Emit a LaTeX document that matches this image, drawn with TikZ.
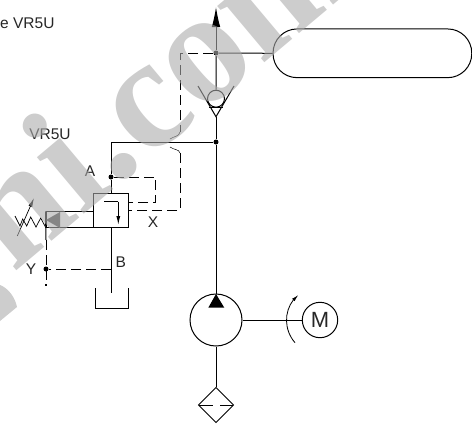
\documentclass[tikz,border=0pt]{standalone}
\usepackage{fontspec}
\setmainfont{Liberation Sans}
\newfontfamily\markfont{Liberation Serif}
\usetikzlibrary{arrows.meta,positioning,shapes.geometric}

\begin{document}
\begin{tikzpicture}[x=1pt, y=-1pt, >=latex, line width=1pt,
    lbl/.style={inner sep=0pt, font=\fontsize{15.5}{16}\selectfont, text=black!85},
    dotnode/.style={circle, fill=black, inner sep=0pt, minimum size=5pt},
    box/.style={draw, rectangle, inner sep=0pt},
    pilot/.style={dash pattern=on 10pt off 5pt, line width=0.8pt}]
   \useasboundingbox (0,0) rectangle (472,424);

   \node[box, minimum width=35.4pt, minimum height=34.7pt] (valve) at (111,210.5) {};
   \node[box, minimum width=47.3pt, minimum height=16pt]   (ctrl)  at (69.65,219.8) {};
   \node[draw, rectangle, rounded corners=24pt, minimum width=198.7pt, minimum height=48.7pt, inner sep=0pt] (accu) at (372.4,53.3) {};
   \node[draw, circle, minimum size=52pt, inner sep=0pt]   (pump)  at (216,320) {};
   \node[draw, circle, minimum size=35.4pt, inner sep=0pt, font=\fontsize{22}{24}\selectfont, text=black!85] (motor) at (320,320) {M};
   \node[draw, diamond, minimum size=35.4pt, inner sep=0pt] (filter) at (216,405) {};
   \node[draw, circle, minimum size=17pt, inner sep=0pt]   (ball)  at (216,98.7) {};

   \node[dotnode] (jTop)  at (216,53) {};
   \node[dotnode] (jMid)  at (216,142) {};
   \node[dotnode] (jA)    at (111,177) {};
   \node[dotnode] (jY)    at (46,269) {};
   \node[fill=black, inner sep=0pt, minimum size=2.5pt] (endY) at (46,285) {};

   \coordinate (outP)  at (216,7);
   \coordinate (apex)  at (216,116.7);
   \coordinate (bendA) at (111,142);
   \coordinate (tankIn) at (111,292.7);
   \coordinate (jB)    at (111,269);

   \draw[-{Latex[length=20pt,width=8.5pt]}] (jTop) -- (outP);
   \draw (ball) -- (jTop) (jTop) -- (accu.west);
   \draw (apex) -- (jMid) -- (bendA) -- (jA) -- (valve.north);
   \draw (jMid) -- (pump.north);
   \draw (pump.south) -- (filter.north);
   \draw (pump.east) -- (motor.west);
   \draw (valve.south) -- (tankIn);

   \draw (198,86) -- (apex) -- (234,86);
   \draw (209,107.7) -- (223,107.7);

   \draw[pilot] (jTop) -- (180,53) -- (180,132);
   \draw[line width=0.5pt] (180,132) .. controls (179,137) and (174,136) .. (170,139);
   \draw[line width=0.5pt] (170,147) .. controls (174,150) and (179,149) .. (180,153);
   \draw[pilot] (180,153) -- (180,210) -- (valve.east |- 0,210);
   \draw[pilot] (jA) -- (155.7,177) -- (155.7,202.7) -- (valve.east |- 0,202.7);
   \draw[pilot] (jB) -- (jY);
   \draw (ctrl.north west) -- (46,240);
   \draw[pilot] (46,240) -- (endY);

   \fill[black!70] (46,220) -- (60,212) -- (60,228) -- cycle;
   \draw (104,201.7) -- (118.3,201.7);
   \draw[-{Latex[length=9pt,width=4pt]}] (118.3,201.7) -- (118.3,225);

   \draw[line width=0.7pt] (46,228) -- (40.7,218) -- (36,227) -- (30.7,217) -- (26.7,226) -- (22.7,219) -- (20,226) -- (15,216);
   \draw[line width=0.7pt, -{Latex[length=9pt,width=4pt]}] (17.3,236) -- (34,198);

   \draw (95.7,288) -- (95.7,308) -- (128.3,308) -- (128.3,288);

   \fill (216,294) -- (224.3,307.7) -- (208.3,307.7) -- cycle;
   \draw[line width=0.8pt] (295,342.7) .. controls (284,330) and (284,312) .. (293.3,300);
   \draw[line width=0.8pt, -{Latex[length=7pt,width=3.5pt]}] (293.3,300) -- (298.3,295);
   \draw[line width=0.7pt] (199,405.3) -- (213,405.3) (220,405.3) -- (233,405.3);

   \node[lbl, anchor=east] at (55,23) {e VR5U};
   \node[lbl] at (50,134) {VR5U};
   \node[lbl] at (90,171) {A};
   \node[lbl] at (153,222) {X};
   \node[lbl] at (120.7,262) {B};
   \node[lbl] at (31,269) {Y};

   \node[rotate=40, opacity=0.6, text=black!33, font=\fontsize{160}{160}\selectfont\markfont\bfseries, inner sep=0pt, anchor=base west] (mark) at (13,274) {ni.com};
   \fill[black!33, opacity=0.6] (0,285) .. controls (8,288) and (15,297) .. (17,307) -- (0,321) -- cycle;
\end{tikzpicture}
\end{document}
